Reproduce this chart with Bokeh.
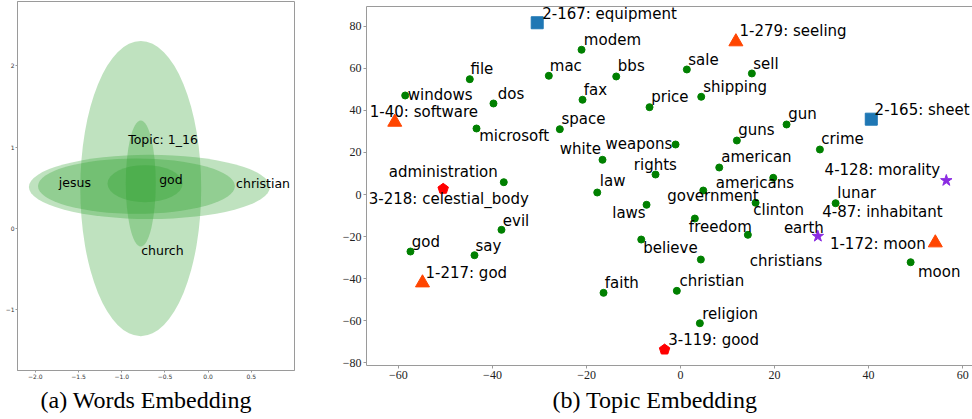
import numpy as np
from bokeh.plotting import figure
from bokeh.layouts import row
from bokeh.models import Range1d, FixedTicker, CustomJSTickFormatter, LinearAxis
from bokeh.core.properties import value
from bokeh.embed import file_html
from bokeh.resources import INLINE

# ---------------- (a) Words Embedding data ----------------
ell_x = [-0.78, -0.68, -0.83, -0.73, -0.78]
ell_y = [0.49, 0.51, 0.52, 0.55, 0.553]
ell_w = [1.40, 2.79, 2.28, 0.87, 0.347]
ell_h = [3.63, 0.79, 0.68, 0.455, 1.55]

word_a = ["Topic: 1_16", "jesus", "god", "christian", "church"]
word_a_x = [-0.926, -1.729, -0.567, 0.324, -0.775]
word_a_y = [1.049, 0.520, 0.550, 0.508, -0.320]

a_xticks = [-2.0, -1.5, -1.0, -0.5, 0.0, 0.5]
a_yticks = [-1, 0, 1, 2]

# ---------------- (b) Topic Embedding data ----------------
words = ["windows", "file", "dos", "microsoft", "modem", "mac", "bbs", "fax", "space", "white",
         "weapons", "rights", "law", "laws", "government", "american", "americans", "clinton",
         "guns", "gun", "crime", "price", "sale", "sell", "shipping", "lunar", "moon", "freedom",
         "believe", "christians", "earth", "christian", "faith", "religion", "administration",
         "evil", "say", "god"]
word_x = [-58.57, -44.83, -39.79, -43.40, -21.06, -28.02, -13.68, -20.85, -25.68, -16.60,
          -1.06, -5.32, -17.72, -7.23, 4.83, 8.23, 19.72, 15.96,
          11.98, 22.55, 29.64, -6.60, 1.34, 15.17, 4.40, 32.98, 48.94, 3.04,
          -8.36, 14.32, 4.32, -0.79, -16.38, 4.11, -37.60,
          -38.09, -43.83, -57.45]
word_y = [47.14, 54.90, 43.33, 31.43, 68.90, 56.52, 56.19, 45.10, 31.10, 16.52,
          23.81, 9.52, 0.95, -4.90, 1.90, 12.86, 7.95, -3.95,
          25.71, 33.33, 21.43, 41.57, 59.52, 57.62, 46.52, -4.14, -32.24, -11.43,
          -21.43, -19.19, -30.95, -45.86, -46.81, -61.29, 5.86,
          -16.81, -28.90, -27.14]
word_lx = [-58.02, -44.68, -38.87, -42.83, -20.57, -27.81, -13.34, -20.57, -25.32, -25.68,
           -15.96, -9.94, -17.17, -14.53, -2.83, 8.66, 7.51, 15.47,
           12.28, 22.91, 29.94, -6.23, 1.64, 15.47, 4.83, 33.34, 50.49, 1.77,
           -7.94, 14.74, 21.98, -0.21, -16.11, 4.62, -62.06,
           -37.81, -43.62, -57.17]
word_ly = [45.10, 57.14, 45.38, 25.71, 70.95, 58.71, 58.57, 47.48, 33.33, 19.05,
           21.76, 11.90, 3.95, -11.29, -3.19, 15.38, 3.19, -9.76,
           28.10, 35.71, 23.81, 43.95, 61.76, 59.86, 48.71, -1.76, -39.05, -17.62,
           -27.76, -34.14, -18.24, -43.33, -44.43, -59.19, 8.24,
           -14.76, -26.67, -25.10]

topics = ["2-167: equipment", "1-279: seeling", "1-40: software", "2-165: sheet",
          "3-218: celestial_body", "4-128: morality", "4-87: inhabitant", "1-172: moon",
          "1-217: god", "3-119: good"]
topic_kind = ["square", "triangle", "triangle", "square",
              "pentagon", "star", "star", "triangle", "triangle", "pentagon"]
topic_x = [-30.49, 11.77, -60.79, 40.57, -50.49, 56.53, 29.21, 54.19, -54.89, -3.40]
topic_y = [81.76, 72.71, 34.43, 35.86, 2.71, 6.67, -19.86, -23.00, -42.05, -73.81]
topic_lx = [-29.43, 12.55, -66.10, 41.28, -66.32, 30.64, 30.15, 31.77, -54.26, -2.62]
topic_ly = [83.67, 75.38, 36.81, 37.95, -4.52, 9.05, -10.48, -25.86, -39.67, -71.43]

b_xticks = [-60, -40, -20, 0, 20, 40, 60]
b_yticks = [-80, -60, -40, -20, 0, 20, 40, 60, 80]

SPINE = "#9a9a9a"
H = 419
TXT_DY = -5  # screen-pixel nudge so baselines sit where matplotlib put them

# ---------------- figure (a) ----------------
pa = figure(width=330, height=H, output_backend="svg", toolbar_location=None,
            x_range=Range1d(-2.207, 1.0), y_range=Range1d(-1.747, 2.79),
            min_border_left=17, min_border_right=36, min_border_top=1, min_border_bottom=49,
            title="(a) Words Embedding", title_location="below")
pa.frame_align = False
pa.grid.visible = False
pa.outline_line_color = SPINE
pa.outline_line_width = 1
pa.background_fill_color = "white"
pa.border_fill_color = "white"
pa.title.text_font = "Liberation Serif"
pa.title.text_font_size = "24px"
pa.title.text_font_style = "normal"
pa.title.text_color = "black"
pa.title.align = "left"
pa.title.offset = 23
pa.title.standoff = 6

fmt_a_x = CustomJSTickFormatter(code="return (tick < 0 ? '\u2212' : '') + Math.abs(tick).toFixed(1);")
fmt_a_y = CustomJSTickFormatter(code="return (tick < 0 ? '\u2212' : '') + Math.abs(tick).toFixed(0);")
for ax, tk, fm in ((pa.xaxis[0], a_xticks, fmt_a_x), (pa.yaxis[0], a_yticks, fmt_a_y)):
    ax.ticker = FixedTicker(ticks=tk)
    ax.formatter = fm
    ax.minor_tick_line_color = None
    ax.major_tick_out = 2
    ax.major_tick_in = 0
    ax.major_tick_line_color = SPINE
    ax.axis_line_color = SPINE
    ax.major_label_text_font = "DejaVu Sans"
    ax.major_label_text_font_size = "6px"
    ax.major_label_text_color = "#333333"
    ax.major_label_standoff = 1

pa.ellipse(x=ell_x, y=ell_y, width=ell_w, height=ell_h,
           fill_color="#2ca02c", fill_alpha=0.3, line_color=None)
pa.text(x=word_a_x, y=word_a_y, text=word_a, text_font=value("DejaVu Sans"),
        text_font_size="12.5px", text_baseline="alphabetic", text_align="left",
        text_color="black", y_offset=-4)

# ---------------- figure (b) ----------------
xr = (-66.8, 62.1)
yr = (-81.4, 89.5)
pb = figure(width=642, height=H, output_backend="svg", toolbar_location=None,
            x_range=Range1d(*xr), y_range=Range1d(*yr),
            min_border_left=36, min_border_right=0, min_border_top=6, min_border_bottom=54,
            title="(b) Topic Embedding", title_location="below")
pb.frame_align = False
pb.grid.visible = False
pb.outline_line_color = None
pb.background_fill_color = "white"
pb.border_fill_color = "white"
pb.title.text_font = "Liberation Serif"
pb.title.text_font_size = "24px"
pb.title.text_font_style = "normal"
pb.title.text_color = "black"
pb.title.align = "left"
pb.title.offset = 186
pb.title.standoff = 6

fmt_b = CustomJSTickFormatter(code="return (tick < 0 ? '\u2212' : '') + Math.abs(tick).toFixed(0);")
for ax, tk in ((pb.xaxis[0], b_xticks), (pb.yaxis[0], b_yticks)):
    ax.ticker = FixedTicker(ticks=tk)
    ax.formatter = fmt_b
    ax.minor_tick_line_color = None
    ax.major_tick_out = 3
    ax.major_tick_in = 0
    ax.major_tick_line_color = SPINE
    ax.axis_line_color = SPINE
    ax.major_label_text_font = "Liberation Serif"
    ax.major_label_text_font_size = "12px"
    ax.major_label_text_color = "#222222"
    ax.major_label_standoff = 2

top_axis = LinearAxis(ticker=FixedTicker(ticks=[]), major_tick_out=0, major_tick_in=0,
                      minor_tick_out=0, minor_tick_in=0, major_label_standoff=0,
                      major_label_text_font_size="0px", axis_line_color=SPINE)
pb.add_layout(top_axis, "above")

# words
pb.scatter(x=word_x, y=word_y, marker="circle", size=7, fill_color="green", line_color="green")
pb.text(x=word_lx, y=word_ly, text=words, text_font=value("DejaVu Sans"),
        text_font_size="15px", text_baseline="alphabetic", text_align="left", text_color="black",
        y_offset=TXT_DY)

# topics
styles = {"triangle": ("triangle", 14, "#ff4500"),
          "square": ("square", 12, "#1f77b4"),
          "star": ("star", 12, "#8a2be2")}
for kind, (mk, sz, col) in styles.items():
    idx = [i for i, k in enumerate(topic_kind) if k == kind]
    pb.scatter(x=[topic_x[i] for i in idx], y=[topic_y[i] for i in idx], marker=mk,
               size=sz, fill_color=col, line_color=col)

# pentagons built around their data centres (radius in screen pixels)
fw, fh = 606.0, 359.0
ppx = fw / (xr[1] - xr[0])
ppy = fh / (yr[1] - yr[0])
r = 5.5
ang = np.deg2rad(90 + 72 * np.arange(5))
pent_idx = [i for i, k in enumerate(topic_kind) if k == "pentagon"]
pxs = [list(topic_x[i] + r * np.cos(ang) / ppx) for i in pent_idx]
pys = [list(topic_y[i] + r * np.sin(ang) / ppy) for i in pent_idx]
pb.patches(xs=pxs, ys=pys, fill_color="red", line_color="red")

pb.text(x=topic_lx, y=topic_ly, text=topics, text_font=value("DejaVu Sans"),
        text_font_size="15px", text_baseline="alphabetic", text_align="left", text_color="black",
        y_offset=TXT_DY)

layout = row(pa, pb, spacing=0)
open("out.html", "w").write(file_html(layout, INLINE))
